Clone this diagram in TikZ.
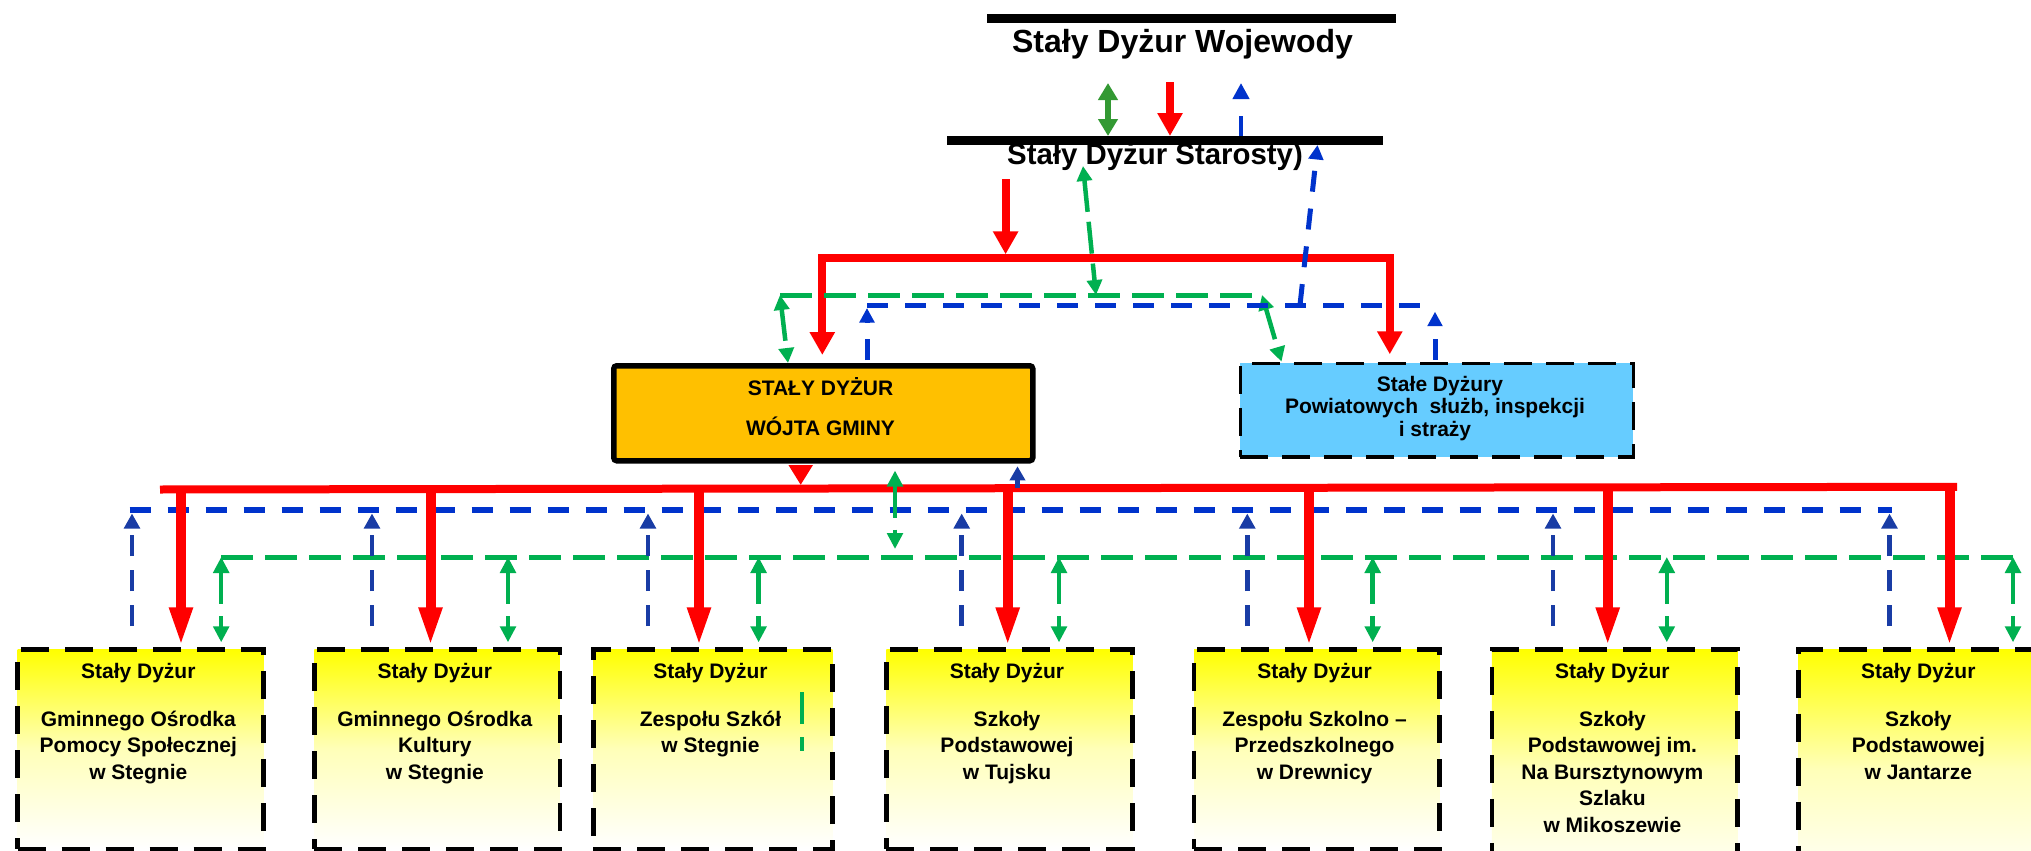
\documentclass[tikz,border=0pt]{standalone}
\usepackage{fontspec}
\setmainfont{Liberation Sans}
\usetikzlibrary{arrows.meta,calc}
\definecolor{myred}{RGB}{255,0,0}
\definecolor{mygreen}{RGB}{0,176,80}
\definecolor{dkgreen}{RGB}{51,153,51}
\definecolor{myblue}{RGB}{0,51,204}
\definecolor{blueb}{RGB}{25,60,165}
\definecolor{orangefill}{RGB}{255,192,0}
\definecolor{skyfill}{RGB}{102,204,255}
\definecolor{paleyel}{RGB}{255,255,185}
\definecolor{yel}{RGB}{255,255,0}
\newcommand\BoxText[3]{%
  \node[btxt] (#1h) at (#2,678) {Stały Dyżur};
  \foreach \lineText [count=\i] in {#3} {\node[btxt] (#1t\i) at (#2,{726+(\i-1)*26.5}) {\lineText};}%
}
\begin{document}
\begin{tikzpicture}[x=0.5pt,y=-0.5pt,
  bar/.style={black, line width=4.5pt},
  redln/.style={myred, line width=4pt, line join=miter},
  redhd/.style={-{Triangle[width=12pt,length=11.5pt]}},
  redbig/.style={myred, line width=5pt, -{Triangle[width=10.5pt,length=20pt]}},
  bluedash/.style={myblue, line width=2.5pt, dash pattern=on 10.5pt off 8.5pt},
  bluehd/.style={-{Triangle[width=7.25pt,length=7.25pt]}},
  bluev/.style={blueb, line width=2.25pt, dash pattern=on 10.5pt off 7pt, -{Triangle[width=7.75pt,length=7.5pt]}},
  greendash/.style={mygreen, line width=2.5pt, dash pattern=on 16pt off 6pt},
  greenhd/.style={{Triangle[width=7.75pt,length=8pt]}-{Triangle[width=7.75pt,length=8pt]}},
  greenv/.style={mygreen, line width=2.25pt, dash pattern=on 16pt off 6pt, greenhd},
  greensl/.style={mygreen, line width=2.25pt, dash pattern=on 16pt off 5pt, {Triangle[width=7.5pt,length=7.5pt]}-{Triangle[width=7.5pt,length=7.5pt]}},
  ybox/.style={draw=black, line width=2.25pt, dash pattern=on 14pt off 8pt, top color=yel, bottom color=white, middle color=paleyel, anchor=north west, inner sep=0pt, minimum height=99.75pt},
  btxt/.style={anchor=base, inner sep=0pt, font=\fontsize{10.5pt}{12pt}\selectfont\bfseries},
  ]
\fill[white] (0,0) rectangle (2031,851);
\useasboundingbox (0,0) rectangle (2031,851);
\clip (0,0) rectangle (2031,851);

% ---------- top: Wojewoda / Starosta ----------
\coordinate (w1) at (987,18); \coordinate (w2) at (1396,18);
\draw[bar] (w1) -- (w2);
\node[anchor=base, inner sep=0pt, font=\fontsize{16pt}{19pt}\selectfont\bfseries] (woj) at (1182.5,52) {Stały Dyżur Wojewody};
\coordinate (s1) at (947,140.5); \coordinate (s2) at (1383,140.5);
\draw[bar] (s1) -- (s2);
\node[anchor=base, inner sep=0pt, font=\fontsize{14.7pt}{17pt}\selectfont\bfseries] (sta) at (1155,164.3) {Stały Dyżur Starosty)};

\coordinate (a1) at (1108,83);
\draw[dkgreen, line width=3pt, {Triangle[width=9.5pt,length=8.5pt]}-{Triangle[width=9.5pt,length=8.5pt]}, shorten >=2.25pt] (a1) -- (a1 |- s1);
\coordinate (a2) at (1170,82);
\draw[redln, line width=3.6pt, redhd, shorten >=2.25pt] (a2) -- (a2 |- s1);
\coordinate (a3) at (1241,83);
\draw[myblue, line width=2.3pt, dash pattern=on 10pt off 8.5pt, -{Triangle[width=8pt,length=8pt]}, shorten <=2.25pt] (a3 |- s1) -- (a3);

% ---------- middle boxes ----------
\node[draw=black, line width=2.75pt, fill=orangefill, rounded corners=1.5pt, anchor=north west, inner sep=0pt, minimum width=209.5pt, minimum height=47.5pt] (wojt) at (611,363) {};
\node[btxt] (wt1) at (820.5,395.7) {STAŁY DYŻUR};
\node[btxt] (wt2) at (820.5,435.7) {WÓJTA GMINY};
\node[draw=black, line width=1.75pt, dash pattern=on 14pt off 7pt, fill=skyfill, anchor=north west, inner sep=0pt, minimum width=196.5pt, minimum height=46.65pt] (powiat) at (1238.5,361.7) {};
\node[btxt] (pt1) at (1440,391) {Stałe Dyżury};
\node[btxt] (pt2) at (1435,413.3) {Powiatowych\ \ służb, inspekcji};
\node[btxt] (pt3) at (1435,436.7) {i straży};

% red from Starosta
\coordinate (rtl) at (822.3,258.3); \coordinate (rtr) at (1389.8,258.3);
\coordinate (a4) at (1005.6,179);
\draw[redln, redhd, shorten >=2pt] (a4) -- (a4 |- rtl);
\draw[redln, {Triangle[width=12pt,length=11.5pt]}-{Triangle[width=12pt,length=11.5pt]}, shorten <=4pt, shorten >=3.7pt] (rtl |- wojt.north) -- (rtl) -- (rtr) -- (rtr |- powiat.north);

% green upper
\coordinate (g0l) at (780,295); \coordinate (g0r) at (1262,295);
\draw[greendash] (g0l) -- (g0r);
\draw[greensl] (g0l) -- ($(wojt.north west)+(177,0)$);
\draw[greensl] (g0r) -- ($(powiat.north west)+(43,0)$);
\coordinate (gm1) at (1083,166); \coordinate (gm2) at (1096,295);
\draw[greensl] (gm1) -- (gm2);

% blue upper
\coordinate (b0l) at (867,305); \coordinate (b0r) at (1435,305);
\coordinate (b0m) at (1300,305); \coordinate (b0t) at (1318,140.5);
\draw[bluedash] (b0l) -- (b0r);
\draw[bluedash, bluehd, shorten <=1.4pt, shorten >=1.5pt] (b0l |- wojt.north) -- (b0l);
\draw[bluedash, bluehd, shorten <=1pt, shorten >=3.35pt] (b0r |- powiat.north) -- (b0r);
\draw[bluedash, bluehd, shorten >=2.25pt] (b0m) -- (b0t);

% ---------- bottom buses ----------
\coordinate (bl1) at (129.5,510); \coordinate (bl2) at (1891.7,510);
\draw[bluedash, line width=2.75pt] (bl1) -- (bl2);
\coordinate (gl1) at (221.2,557); \coordinate (gl2) at (2013,557);
\draw[greendash] (gl1) -- (gl2);
\coordinate (rb1) at (160,489.5); \coordinate (rb2) at (1957,486.8);
\draw[myred, line width=4pt] (rb1) -- (rb2);

% below the Wojt box
\coordinate (rbm) at (800.7,489);
\draw[redln, -{Triangle[width=11.5pt,length=10pt]}, shorten <=1.4pt, shorten >=2pt] ($(wojt.south west)+(189.7,0)$) -- (rbm);
\coordinate (gbm) at (895,557);
\draw[greenv, shorten <=3.5pt, shorten >=4pt] ($(wojt.south west)+(284,0)$) -- (gbm);
\coordinate (bbm) at (1017.5,488);
\draw[blueb, line width=2.25pt, -{Triangle[width=7.5pt,length=7pt]}, shorten >=1.4pt] (bbm) -- ($(wojt.south west)+(406.5,0)$);

% ---------- bottom boxes ----------
\node[ybox, minimum width=123pt] (b1) at (15.4,647.3) {};
\node[ybox, minimum width=122.75pt] (b2) at (312,647.3) {};
\node[ybox, minimum width=119.5pt] (b3) at (591,647.3) {};
\node[ybox, minimum width=123pt] (b4) at (884,647.3) {};
\node[ybox, minimum width=122.8pt] (b5) at (1191.8,647.3) {};
\node[ybox, minimum width=122.65pt, minimum height=120pt] (b6) at (1489.7,647.3) {};
\node[ybox, minimum width=122pt, minimum height=120pt] (b7) at (1796.3,647.3) {};

\BoxText{b1}{138.3}{Gminnego Ośrodka,Pomocy Społecznej,w Stegnie}
\BoxText{b2}{434.8}{Gminnego Ośrodka,Kultury,w Stegnie}
\BoxText{b3}{710.5}{Zespołu Szkół,w Stegnie}
\BoxText{b4}{1007}{Szkoły,Podstawowej,w Tujsku}
\BoxText{b5}{1314.6}{Zespołu Szkolno –,Przedszkolnego,w Drewnicy}
\BoxText{b6}{1612.4}{Szkoły,Podstawowej im.,Na Bursztynowym,Szlaku,w Mikoszewie}
\BoxText{b7}{1918.3}{Szkoły,Podstawowej,w Jantarze}

\coordinate (st1) at (802,692); \coordinate (st2) at (802,751);
\draw[mygreen, line width=2pt, dash pattern=on 16pt off 6.5pt] (st1) -- (st2);

% connectors to bottom boxes
\coordinate (BBus) at (0,510);
\foreach \n/\xr/\xb/\xg in {1/181/132/221.2, 2/430.5/372/508, 3/699/648/758.6, 4/1007.7/961.7/1059, 5/1309/1247.3/1372.7, 6/1607.7/1553/1666.8, 7/1949.5/1889.5/2013}{
  \coordinate (bb\n) at (\xb,626);
  \draw[bluev, shorten >=1.75pt] (bb\n) -- (bb\n |- BBus);
  \coordinate (gg\n) at (\xg,557);
  \draw[greenv, shorten >=2.5pt] (gg\n) -- (gg\n |- b\n.north);
  \coordinate (rr\n) at (\xr,488);
  \draw[redbig] (rr\n) -- (rr\n |- b\n.north);
}
\end{tikzpicture}
\end{document}
